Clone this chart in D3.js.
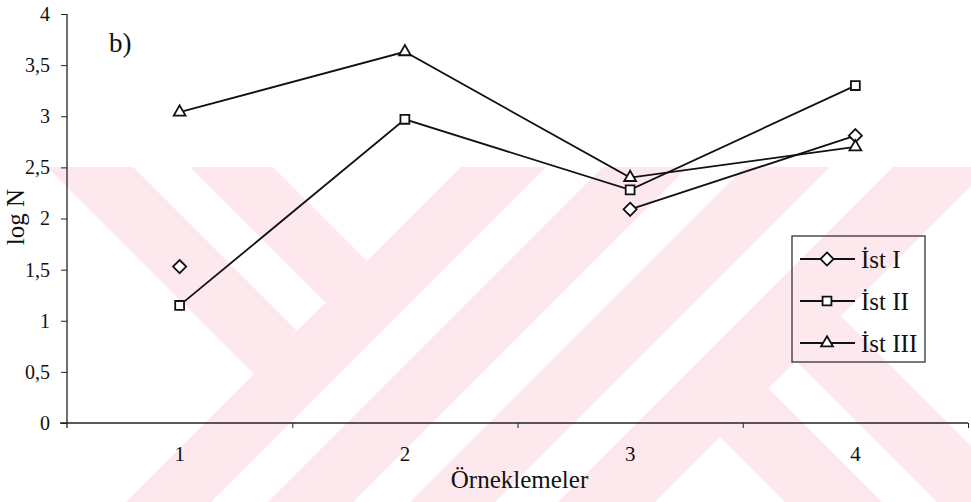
<!DOCTYPE html>
<html>
<head>
<meta charset="utf-8">
<script src="https://cdn.jsdelivr.net/npm/d3@7"></script>
<style>
  html, body { margin: 0; padding: 0; background: #fff; }
  svg { display: block; }
  text { font-family: "Liberation Serif", "Times New Roman", serif; fill: #111; }
</style>
</head>
<body>
<svg id="chart" width="971" height="502"></svg>
<script>
// Sampling rounds on the x axis
const categories = ["1", "2", "3", "4"];
// log N per station (null = no measurement)
const ist1 = [1.53, null, 2.09, 2.81];
const ist2 = [1.15, 2.97, 2.28, 3.30];
const ist3 = [3.04, 3.63, 2.40, 2.70];
const seriesNames = ["İst I", "İst II", "İst III"];
const seriesSymbols = ["diamond", "square", "triangle"];
const yTicks = [0, 0.5, 1, 1.5, 2, 2.5, 3, 3.5, 4];
const xTitle = "Örneklemeler";
const yTitle = "log N";
const panelLabel = "b)";

const W = 971, H = 502;
const margin = { top: 14, right: 3, bottom: 79, left: 67 };
const iw = W - margin.left - margin.right;
const ih = H - margin.top - margin.bottom;

const svg = d3.select("#chart");

// ---- background stripe pattern (pale pink diagonal bands) ----
const bg = svg.append("g").attr("fill", "#fde9ed");
const yTop = 167, yBot = H;
// "/" bands: x + y within [a, b]
const slashBands = [[628, 713], [770, 855], [912, 997], [1060, 1157]];
// "\" bands: x - y within [a, b], ending / starting at the line x + y = c
const backUpper = [[-120, -34, 628], [23, 106, 628]];
const backLower = [[283, 380, 1157], [435, 525, 1157]];
const poly = pts => "M" + pts.map(p => p.join(",")).join("L") + "Z";
slashBands.forEach(([a, b]) => {
  bg.append("path").attr("d", poly([[a - yTop, yTop], [b - yTop, yTop], [b - yBot, yBot], [a - yBot, yBot]]));
});
backUpper.forEach(([a, b, c]) => {
  bg.append("path").attr("d", poly([[a + yTop, yTop], [b + yTop, yTop], [(b + c) / 2, (c - b) / 2], [(a + c) / 2, (c - a) / 2]]));
});
backLower.forEach(([a, b, c]) => {
  bg.append("path").attr("d", poly([[(a + c) / 2, (c - a) / 2], [(b + c) / 2, (c - b) / 2], [b + yBot, yBot], [a + yBot, yBot]]));
});

const g = svg.append("g").attr("transform", `translate(${margin.left},${margin.top})`);

const x = d3.scaleBand().domain(categories).range([0, iw]);
const xEdge = d3.scaleLinear().domain([0, categories.length]).range([0, iw]);
const y = d3.scaleLinear().domain([0, 4]).range([ih, 0]);
const fmt = d => String(d).replace(".", ",");

// y axis
const yAxis = g.append("g").call(
  d3.axisLeft(y).tickValues(yTicks).tickSize(6).tickPadding(11).tickFormat(fmt)
);
yAxis.select(".domain").remove();
yAxis.selectAll(".tick line").attr("stroke", "#222");
yAxis.selectAll(".tick text").attr("font-size", 20).attr("font-family", "Liberation Serif").attr("fill", "#111");
g.append("line").attr("x1", 0).attr("x2", 0).attr("y1", 0).attr("y2", ih + 5)
  .attr("stroke", "#222").attr("stroke-width", 1.3);

// x axis: ticks at category boundaries, labels at category centres
const xAxis = g.append("g").attr("transform", `translate(0,${ih})`).call(
  d3.axisBottom(xEdge).tickValues([1, 2, 3, 4]).tickSize(5).tickFormat("")
);
xAxis.select(".domain").remove();
xAxis.selectAll(".tick line").attr("stroke", "#222");
g.append("line").attr("x1", -7).attr("x2", iw).attr("y1", ih).attr("y2", ih)
  .attr("stroke", "#222").attr("stroke-width", 1.3);
g.append("g").selectAll("text").data(categories).join("text")
  .attr("x", d => x(d) + x.bandwidth() / 2)
  .attr("y", ih + 38)
  .attr("text-anchor", "middle")
  .attr("font-size", 21)
  .text(d => d);

// titles
g.append("text").attr("x", iw / 2 + 2).attr("y", ih + 65).attr("text-anchor", "middle")
  .attr("font-size", 25).text(xTitle);
svg.append("text").attr("transform", `translate(24,217) rotate(-90)`).attr("text-anchor", "middle")
  .attr("font-size", 25).text(yTitle);
svg.append("text").attr("x", 109).attr("y", 52).attr("font-size", 27).text(panelLabel);

// series
const series = [ist1, ist2, ist3].map((vals, i) => ({
  name: seriesNames[i],
  symbol: seriesSymbols[i],
  points: vals.map((v, j) => ({ c: categories[j], v }))
}));
const symbolType = { diamond: d3.symbolDiamond2, square: d3.symbolSquare2, triangle: d3.symbolTriangle2 };
const symbolSize = { diamond: 110, square: 100, triangle: 100 };
const cx = d => x(d.c) + x.bandwidth() / 2;
const line = d3.line().defined(d => d.v !== null).x(cx).y(d => y(d.v));

series.forEach(s => {
  g.append("path").datum(s.points).attr("d", line)
    .attr("fill", "none").attr("stroke", "#111").attr("stroke-width", 1.8);
});
series.forEach(s => {
  g.append("g").selectAll("path").data(s.points.filter(p => p.v !== null)).join("path")
    .attr("transform", d => `translate(${cx(d)},${y(d.v)})`)
    .attr("d", d3.symbol().type(symbolType[s.symbol]).size(symbolSize[s.symbol]))
    .attr("fill", "#fff").attr("stroke", "#111").attr("stroke-width", 1.8);
});

// legend
const lg = svg.append("g").attr("transform", "translate(792,236)");
lg.append("rect").attr("width", 133).attr("height", 126)
  .attr("fill", "none").attr("stroke", "#333").attr("stroke-width", 1.3);
series.forEach((s, i) => {
  const ry = 23 + i * 42;
  lg.append("line").attr("x1", 8).attr("x2", 63).attr("y1", ry).attr("y2", ry)
    .attr("stroke", "#111").attr("stroke-width", 1.8);
  lg.append("path").attr("transform", `translate(35,${ry})`)
    .attr("d", d3.symbol().type(symbolType[s.symbol]).size(symbolSize[s.symbol]))
    .attr("fill", "#fff").attr("stroke", "#111").attr("stroke-width", 1.8);
  lg.append("text").attr("x", 69).attr("y", ry + 9).attr("font-size", 25).text(s.name);
});
</script>
</body>
</html>
